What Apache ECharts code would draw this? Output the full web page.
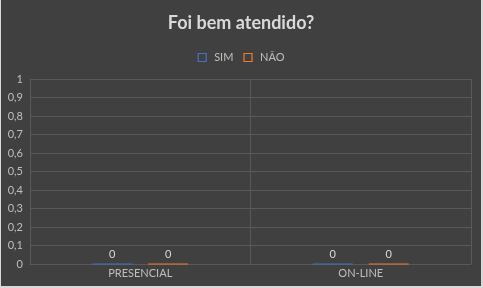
<!DOCTYPE html>
<html><head><meta charset="utf-8">
<script src="https://cdn.jsdelivr.net/npm/echarts@6/dist/echarts.min.js"></script>
<style>html,body{margin:0;padding:0;background:#d9d9d9;}#c{position:absolute;left:1px;top:0;width:480px;height:286px;background:#404040;}</style>
</head><body><div id="c"></div>
<script>
const categories = ['PRESENCIAL', 'ON-LINE'];
const simValues = [0, 0];
const naoValues = [0, 0];
const seriesNames = ['SIM', 'NÃO'];
const yTicks = [0, 0.1, 0.2, 0.3, 0.4, 0.5, 0.6, 0.7, 0.8, 0.9, 1];

const chart = echarts.init(document.getElementById('c'));
const labelCfg = {show: true, position: 'top', color: '#d9d9d9', fontFamily: 'Lato', fontSize: 11, distance: 4};
chart.setOption({
  backgroundColor: '#404040',
  animation: false,
  title: {text: 'Foi bem atendido?', left: 'center', top: 9,
    textStyle: {color: '#d9d9d9', fontFamily: 'Lato', fontWeight: 'bold', fontSize: 18}},
  legend: {top: 47, left: 'center', itemWidth: 8, itemHeight: 8, itemGap: 10,
    icon: 'rect',
    textStyle: {color: '#bfbfbf', fontFamily: 'Lato', fontSize: 11, padding: [0, 0, 0, 3]},
    data: seriesNames.map((n, i) => ({name: n, itemStyle: {color: 'transparent', borderColor: i ? '#ED7D31' : '#4472C4', borderWidth: 1.2}}))},
  grid: {left: 29, right: 10, top: 79, bottom: 22, containLabel: false},
  xAxis: {type: 'category', data: categories,
    axisLine: {lineStyle: {color: '#595959'}}, axisTick: {show: false},
    axisLabel: {color: '#bfbfbf', fontFamily: 'Lato', fontSize: 11, margin: 4},
    splitLine: {show: true, interval: 0, lineStyle: {color: '#595959'}}},
  yAxis: {type: 'value', min: 0, max: 1, interval: 0.1,
    axisLine: {show: true, lineStyle: {color: '#595959'}}, axisTick: {show: false},
    axisLabel: {color: '#bfbfbf', fontFamily: 'Lato', fontSize: 11, margin: 7,
      formatter: v => String(Math.round(v * 10) / 10).replace('.', ',')},
    splitLine: {lineStyle: {color: '#595959'}}},
  series: [
    {name: seriesNames[0], type: 'bar', data: simValues, barWidth: 40, barGap: '40%',
      itemStyle: {color: '#4472C4', borderColor: '#4472C4', borderWidth: 0.6}, label: labelCfg},
    {name: seriesNames[1], type: 'bar', data: naoValues, barWidth: 40,
      itemStyle: {color: '#ED7D31', borderColor: '#ED7D31', borderWidth: 0.6}, label: labelCfg}
  ]
});
</script></body></html>
